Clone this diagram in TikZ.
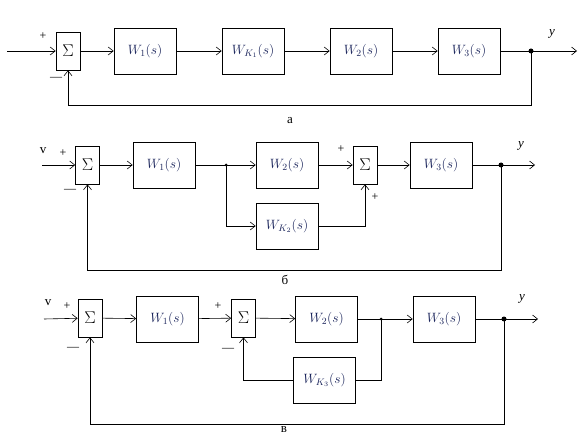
\RequirePackage{fix-cm}
\documentclass[tikz,border=0pt]{standalone}
\usepackage{fontspec}
\setmainfont{Liberation Serif}
\usetikzlibrary{arrows.meta}
\definecolor{navy}{RGB}{25,35,90}
\begin{document}
\begin{tikzpicture}[x=1pt,y=-1pt,
  blk/.style={draw, line width=0.7pt, minimum width=62pt, minimum height=46pt, inner sep=0pt, text=navy, font=\fontsize{13.5}{15}\selectfont},
  sumb/.style={draw, line width=0.7pt, minimum width=24pt, minimum height=38pt, inner sep=0pt, font=\fontsize{17}{19}\selectfont},
  arr/.style={-{Straight Barb[length=5pt,width=8pt]}, line width=0.6pt},
  ln/.style={line width=0.6pt},
  bigdot/.style={circle, fill, inner sep=0pt, minimum size=5pt},
  smdot/.style={circle, fill, inner sep=0pt, minimum size=3pt},
  sgn/.style={font=\fontsize{12}{13}\selectfont, inner sep=0pt},
  lbl/.style={font=\fontsize{13}{14}\selectfont, inner sep=0pt}]
\useasboundingbox (0,0) rectangle (580,443);
% ---------- a ----------
\coordinate (ina) at (7,51);
\coordinate (outa) at (577,51);
\node[sumb] (s1a) at (68,51) {$\Sigma$};
\node[blk] (W1a) at (145,51) {$W_1(s)$};
\node[blk] (WK1) at (253,51) {$W_{K_1}(s)$};
\node[blk] (W2a) at (361,51) {$W_2(s)$};
\node[blk] (W3a) at (469,51) {$W_3(s)$};
\node[bigdot] (ja) at (531,51) {};
\coordinate (fa) at (68,105);
\draw[arr] (ina) -- (s1a);
\draw[arr] (s1a) -- (W1a);
\draw[arr] (W1a) -- (WK1);
\draw[arr] (WK1) -- (W2a);
\draw[arr] (W2a) -- (W3a);
\draw[arr] (W3a) -- (outa);
\draw[arr] (ja.center) |- (fa) -- (s1a.south);
\node[sgn] (pa) at (43,36) {+};
\node[sgn] (ma) at (56,79) {—};
\node[lbl] (ya) at (552,34) {\itshape y};
\node[lbl] (ta) at (290,121) {а};
% ---------- b ----------
\coordinate (inb) at (42,165);
\coordinate (outb) at (535,165);
\node[sumb] (s1b) at (87.5,165) {$\Sigma$};
\node[blk] (W1b) at (164,165) {$W_1(s)$};
\node[smdot] (jb1) at (226,165) {};
\node[blk] (W2b) at (287,165) {$W_2(s)$};
\node[blk] (WK2) at (287,226) {$W_{K_2}(s)$};
\node[sumb] (s2b) at (365,165) {$\Sigma$};
\node[blk] (W3b) at (441,165) {$W_3(s)$};
\node[bigdot] (jb2) at (501,165) {};
\coordinate (fb) at (87.5,270);
\draw[arr] (inb) -- (s1b);
\draw[arr] (s1b) -- (W1b);
\draw[arr] (W1b) -- (W2b);
\draw[arr] (jb1.center) |- (WK2.west);
\draw[arr] (W2b) -- (s2b);
\draw[arr] (WK2.east) -| (s2b.south);
\draw[arr] (s2b) -- (W3b);
\draw[arr] (W3b) -- (outb);
\draw[arr] (jb2.center) |- (fb) -- (s1b.south);
\node[lbl] (vb) at (43,151) {v};
\node[sgn] (pb) at (63,153) {+};
\node[sgn] (mb) at (70,191) {—};
\node[sgn] (pb2) at (341,149) {+};
\node[sgn] (pb3) at (375,197) {+};
\node[lbl] (yb) at (521,146) {\itshape y};
\node[lbl] (tb) at (285,280) {б};
% ---------- c ----------
\coordinate (inc) at (44,319);
\coordinate (outc) at (538,319);
\node[sumb] (s1c) at (90,318) {$\Sigma$};
\node[blk] (W1c) at (167.5,319) {$W_1(s)$};
\node[sumb] (s2c) at (243.5,318) {$\Sigma$};
\node[blk] (W2c) at (326.5,319) {$W_2(s)$};
\node[smdot] (jc1) at (381,319) {};
\node[blk] (WK3) at (324.5,380) {$W_{K_3}(s)$};
\node[blk] (W3c) at (444,319) {$W_3(s)$};
\node[bigdot] (jc2) at (504,319) {};
\coordinate (fc) at (90,424);
\draw[arr] (inc) -- (s1c);
\draw[arr] (s1c) -- (W1c);
\draw[arr] (W1c) -- (s2c);
\draw[arr] (s2c) -- (W2c);
\draw[arr] (W2c) -- (W3c);
\draw[ln] (jc1.center) |- (WK3.east);
\draw[arr] (WK3.west) -| (s2c.south);
\draw[arr] (W3c) -- (outc);
\draw[arr] (jc2.center) |- (fc) -- (s1c.south);
\node[lbl] (vc) at (48,303) {v};
\node[sgn] (pc) at (67,306) {+};
\node[sgn] (mc) at (73,349) {—};
\node[sgn] (pc2) at (218,306) {+};
\node[sgn] (mc2) at (228,350) {—};
\node[lbl] (yc) at (522,299) {\itshape y};
\node[lbl] (tc) at (284,430) {в};
\end{tikzpicture}
\end{document}
